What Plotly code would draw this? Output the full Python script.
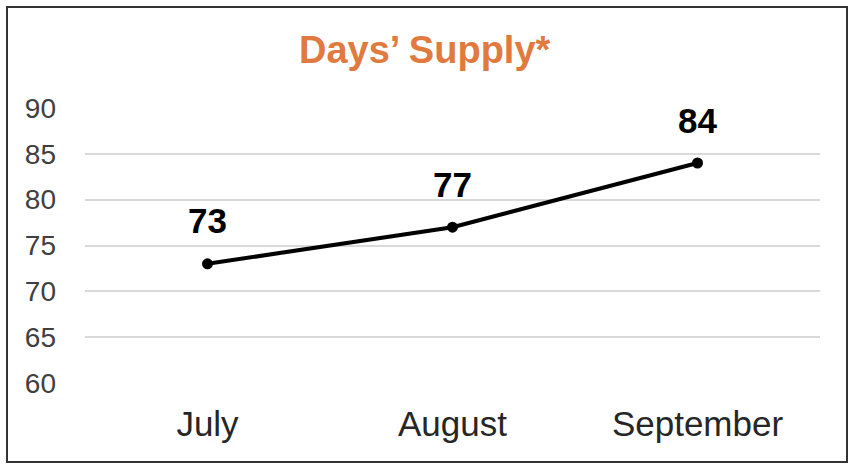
import plotly.graph_objects as go

months = ["July", "August", "September"]
days_supply = [73, 77, 84]
y_ticks = [60, 65, 70, 75, 80, 85, 90]

FONT = "Liberation Sans, Arial"

fig = go.Figure()
fig.add_trace(go.Scatter(
    x=months, y=days_supply, mode="lines+markers",
    line=dict(color="black", width=4),
    marker=dict(color="black", size=11),
    hoverinfo="skip",
))

for m, v in zip(months, days_supply):
    fig.add_annotation(x=m, y=v, text=f"<b>{v}</b>", showarrow=False,
                       yshift=43, font=dict(family=FONT, size=35, color="black"))

L, R, T, B = 85, 40, 108, 89
W, H = 860, 472
pw, ph = W - L - R, H - T - B
def px(x): return (x - L) / pw
def py(y): return (H - B - y) / ph

fig.add_shape(type="rect", xref="paper", yref="paper",
              x0=px(7), x1=px(847), y0=py(462), y1=py(7),
              line=dict(color="#333333", width=2), layer="above")

fig.add_annotation(xref="paper", yref="paper", x=px(425), y=py(50),
                   xanchor="center", yanchor="middle",
                   text="<b>Days’ Supply*</b>", showarrow=False,
                   font=dict(family=FONT, size=38, color="#E07A3E"))

fig.update_layout(
    width=W, height=H,
    margin=dict(l=L, r=R, t=T, b=B),
    paper_bgcolor="white", plot_bgcolor="white",
    showlegend=False,
    font=dict(family=FONT, color="#404040"),
    xaxis=dict(showgrid=False, zeroline=False, showline=False,
               tickfont=dict(size=35, color="#262626"), ticklabelstandoff=17,
               range=[-0.5, 2.5]),
    yaxis=dict(range=[60, 90], tickvals=y_ticks, showgrid=True,
               gridcolor="#D9D9D9", gridwidth=1.5, zeroline=False, showline=False,
               tickfont=dict(size=28, color="#404040"), ticklabelstandoff=28),
)

fig.write_html("out.html", config={"displayModeBar": False},
               post_script="document.body.style.margin='0';document.body.style.overflow='hidden';")
